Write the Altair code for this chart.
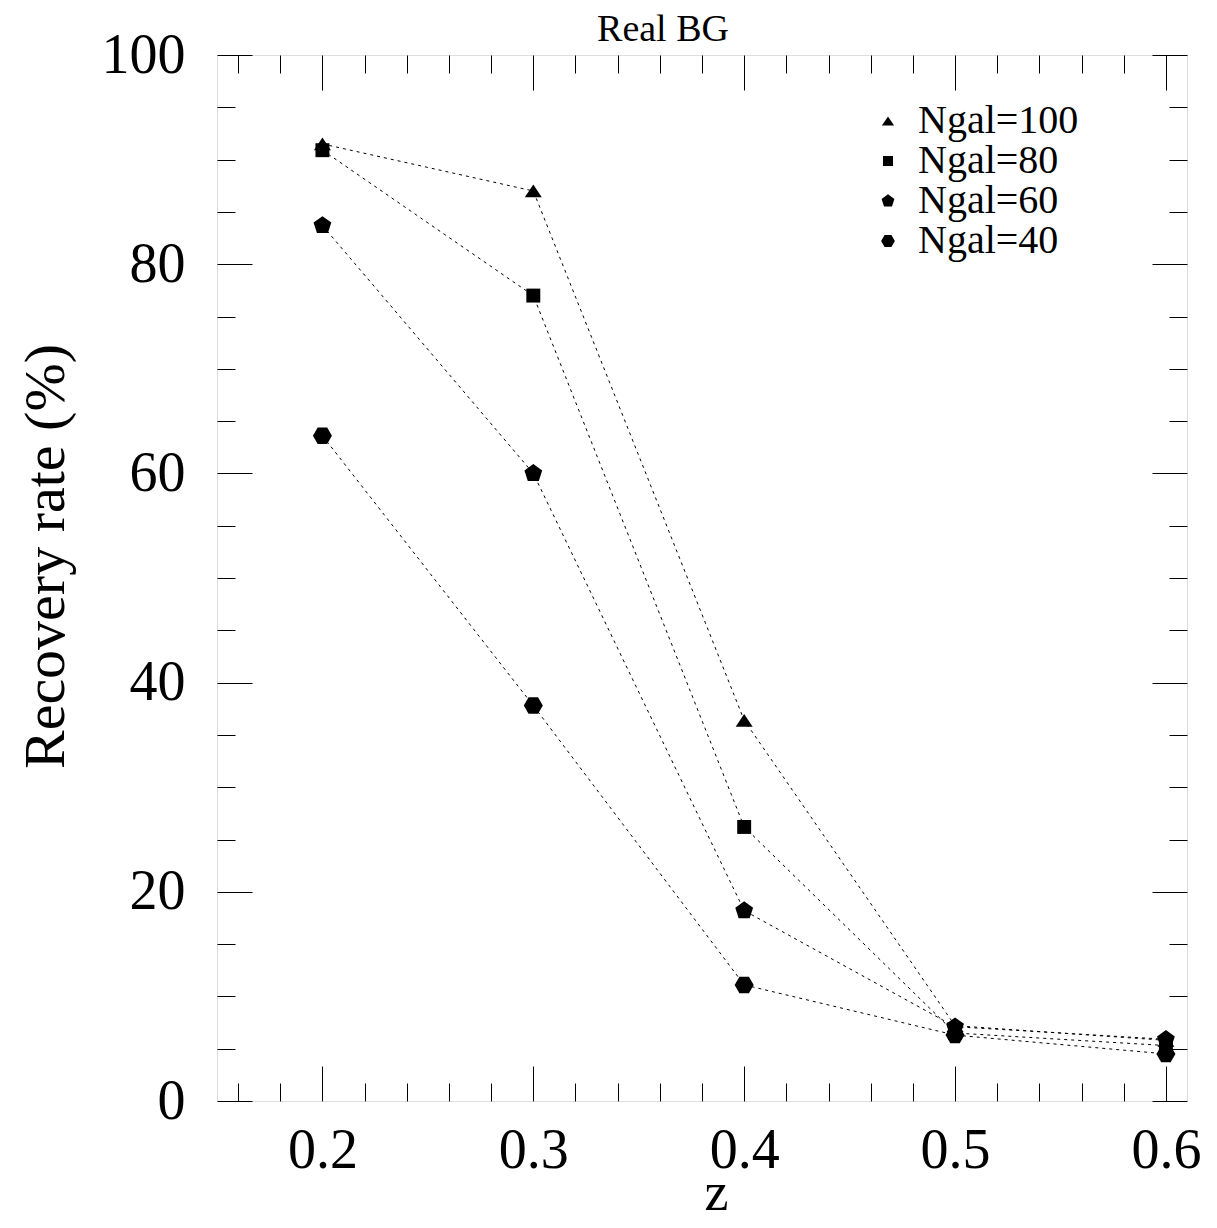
import altair as alt
import pandas as pd

# ---- data ----
title_text = ["Real BG"]
z_values = [0.2, 0.3, 0.4, 0.5, 0.6]
series_names = ["Ngal=100", "Ngal=80", "Ngal=60", "Ngal=40"]
ngal100 = [91.5, 87.0, 36.4, 7.2, 5.8]
ngal80 = [90.9, 77.0, 26.2, 6.5, 5.3]
ngal60 = [83.7, 60.0, 18.2, 7.1, 5.9]
ngal40 = [63.6, 37.8, 11.1, 6.3, 4.5]

x_major = [0.2, 0.3, 0.4, 0.5, 0.6]
x_minor = [0.16, 0.18, 0.22, 0.24, 0.26, 0.28, 0.32, 0.34, 0.36, 0.38,
           0.42, 0.44, 0.46, 0.48, 0.52, 0.54, 0.56, 0.58]
y_major = [0, 20, 40, 60, 80, 100]
y_minor = [5, 10, 15, 25, 30, 35, 45, 50, 55, 65, 70, 75, 85, 90, 95]

rows = []
for name, vals in zip(series_names, [ngal100, ngal80, ngal60, ngal40]):
    for zv, v in zip(z_values, vals):
        rows.append({"z": zv, "rate": v, "series": name})
df = pd.DataFrame(rows)

FONT = "Liberation Serif"
W, H = 970, 1046
MAJ, MIN = 35, 18

# marker outlines (unit coordinates, scaled by the mark size)
triangle = "M0,-0.75L1,0.75L-1,0.75Z"
square = "M-0.82,-0.82L0.82,-0.82L0.82,0.82L-0.82,0.82Z"
pentagon = "M0,-1.1L1.046,-0.34L0.647,0.89L-0.647,0.89L-1.046,-0.34Z"
hexagon = "M1.12,0L0.56,0.97L-0.56,0.97L-1.12,0L-0.56,-0.97L0.56,-0.97Z"

xscale = alt.Scale(domain=[0.15, 0.61], nice=False, zero=False)
yscale = alt.Scale(domain=[0, 100], nice=False)


def ax(orient, values, size, labels=False, **kw):
    return alt.Axis(orient=orient, values=values, tickSize=size, offset=-size,
                    domain=False, grid=False, ticks=True, labels=labels,
                    tickColor="black", tickWidth=1, labelFlush=False,
                    labelOverlap=False, **kw)


x_bottom_major = ax("bottom", x_major, MAJ, labels=True, format=".1f",
                    labelFont=FONT, labelFontSize=56, labelColor="black",
                    labelPadding=22, title="z", titleFont=FONT,
                    titleFontSize=54, titleFontWeight="normal",
                    titleColor="black", titleX=499, titleY=143,
                    titleBaseline="alphabetic", titleAlign="center")
y_left_major = ax("left", y_major, MAJ, labels=True, format="d",
                  labelFont=FONT, labelFontSize=56, labelColor="black",
                  labelPadding=32, title="Recovery rate (%)", titleFont=FONT,
                  titleFontSize=58, titleFontWeight="normal",
                  titleColor="black", titleX=-189, titleY=501, titleAngle=270,
                  titleBaseline="alphabetic", titleAlign="center")

lines = alt.Chart(df).mark_line(color="black", strokeWidth=1,
                                strokeDash=[3, 4]).encode(
    x=alt.X("z:Q", scale=xscale, axis=x_bottom_major),
    y=alt.Y("rate:Q", scale=yscale, axis=y_left_major),
    detail="series:N",
    order="z:Q",
)

points = alt.Chart(df).mark_point(filled=True, color="black", opacity=1,
                                  size=289).encode(
    x=alt.X("z:Q", scale=xscale, axis=ax("bottom", x_minor, MIN, title=None)),
    y=alt.Y("rate:Q", scale=yscale, axis=ax("left", y_minor, MIN, title=None)),
    shape=alt.Shape("series:N",
                    scale=alt.Scale(domain=series_names,
                                    range=[triangle, square, pentagon, hexagon]),
                    legend=alt.Legend(orient="none", legendX=651, legendY=46,
                                      title=None, labelFont=FONT,
                                      labelFontSize=40, labelColor="black",
                                      labelLimit=500, symbolSize=150,
                                      labelOffset=10, rowPadding=0,
                                      padding=0, symbolFillColor="black",
                                      symbolStrokeWidth=0)),
)

top_right_major = alt.Chart(df).mark_point(opacity=0).encode(
    x=alt.X("z:Q", scale=xscale, axis=ax("top", x_major, MAJ, title=None)),
    y=alt.Y("rate:Q", scale=yscale, axis=ax("right", y_major, MAJ, title=None)),
)
top_right_minor = alt.Chart(df).mark_point(opacity=0).encode(
    x=alt.X("z:Q", scale=xscale, axis=ax("top", x_minor, MIN, title=None)),
    y=alt.Y("rate:Q", scale=yscale, axis=ax("right", y_minor, MIN, title=None)),
)

# chart title, drawn as a text mark just above the frame
title = alt.Chart(pd.DataFrame({"t": title_text})).mark_text(
    font=FONT, fontSize=38, color="black", align="center",
    baseline="alphabetic", clip=False
).encode(text="t:N", x=alt.value(446), y=alt.value(-14))

chart = alt.layer(lines, points, top_right_major, top_right_minor,
                  title).resolve_axis(
    x="independent", y="independent"
).resolve_scale(x="shared", y="shared").properties(
    width=W, height=H,
    autosize=alt.AutoSizeParams(type="none"),
    padding={"left": 209, "top": 47, "right": 22, "bottom": 119},
).configure_view(stroke="black", strokeWidth=2).configure_legend(
    labelFont=FONT, labelFontSize=40, labelLimit=500
).configure(background="white")

chart.save("out.html", embed_options={"renderer": "svg", "actions": False})
